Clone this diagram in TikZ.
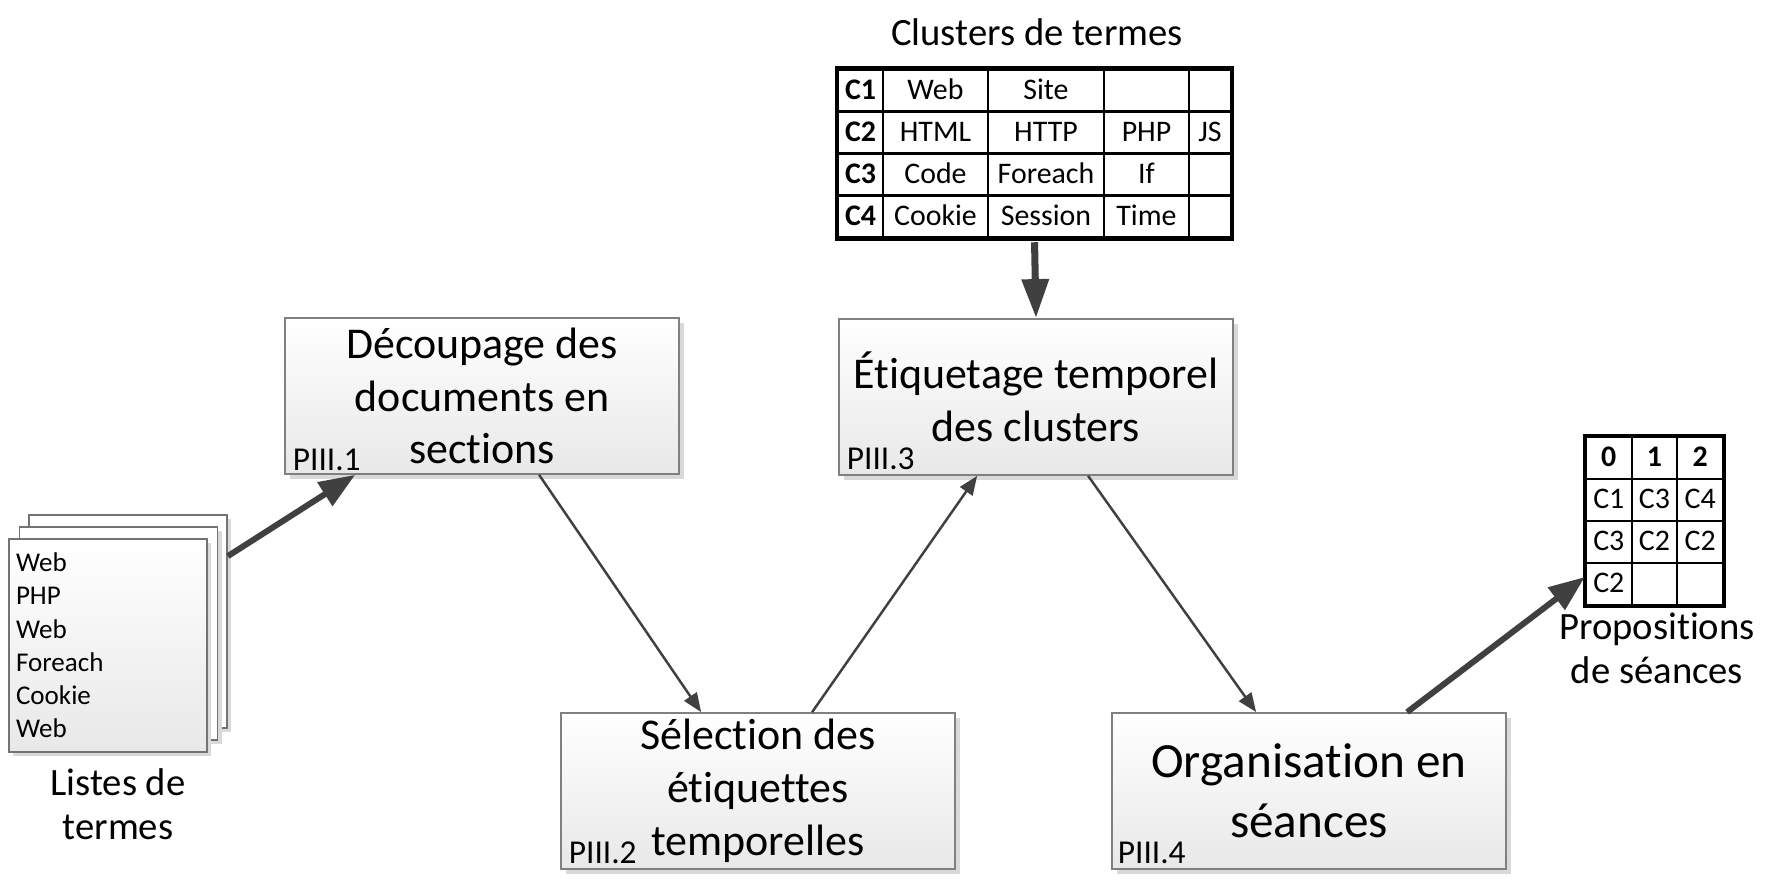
\documentclass[tikz,border=0pt]{standalone}
\usepackage{fontspec}
\setmainfont{Carlito}[Ligatures={NoCommon,NoRare}]
\usetikzlibrary{arrows.meta,shadows,matrix}

\tikzset{
  process/.style={draw=black!50, line width=0.5pt, top color=white, bottom color=black!9,
    minimum width=3.94cm, minimum height=1.56cm, inner sep=0pt, align=center,
    font=\fontsize{12.5}{15}\selectfont,
    drop shadow={shadow xshift=0.05cm, shadow yshift=-0.05cm, fill=black!15, opacity=1}},
  tag/.style={anchor=base west, inner sep=0pt, font=\fontsize{9.5}{11}\selectfont},
  sheet/.style={draw=black!55, line width=0.5pt, fill=white,
    minimum width=1.98cm, minimum height=2.13cm, inner sep=0pt,
    drop shadow={shadow xshift=0.04cm, shadow yshift=-0.04cm, fill=black!15, opacity=1}},
  caption/.style={align=center, inner sep=0pt, font=\fontsize{11}{12.5}\selectfont},
  flow/.style={-{Triangle[length=0.19cm, width=0.15cm]}, line width=0.7pt, draw=black!75},
  bigflow/.style={-{Triangle[length=0.36cm, width=0.27cm]}, line width=1.7pt, draw=black!75},
  downflow/.style={-{Triangle[length=0.39cm, width=0.26cm]}, line width=2pt, draw=black!75},
  grid/.style={matrix of nodes, nodes in empty cells, inner sep=0pt,
    column sep=-0.6pt, row sep=-0.6pt,
    nodes={draw, line width=0.6pt, inner sep=0pt, minimum height=0.42cm,
      text height=6.5pt, text depth=1.5pt, font=\fontsize{8.5}{10}\selectfont}}
}

\begin{document}
\begin{tikzpicture}
  \useasboundingbox (0,0) rectangle (17.83,8.92);

  % Draw the stack of term lists
  \node[sheet] (sheet3) at (1.28,2.705) {};
  \node[sheet] (sheet2) at (1.185,2.585) {};
  \node[sheet, top color=white, bottom color=black!9, align=left, text width=1.84cm,
    inner xsep=0.07cm, font=\fontsize{7.7}{9.45}\selectfont] (sheet1) at (1.08,2.465)
    {Web\\PHP\\Web\\Foreach\\Cookie\\Web};
  \node[caption] (listes) at (1.18,0.88) {Listes de\\termes};

  % Draw the four processing steps
  \node[process] (decoupage) at (4.82,4.96) {Découpage des\\documents en\\sections};
  \node[process] (selection) at (7.58,1.01) {Sélection des\\étiquettes\\temporelles};
  \node[process] (etiquetage) at (10.36,4.95) {Étiquetage temporel\\des clusters};
  \node[process, font=\fontsize{14}{17}\selectfont] (organisation) at (13.09,1.01) {Organisation en\\séances};

  \node[tag] (tag1) at ([xshift=0.08cm, yshift=0.04cm]decoupage.south west) {PIII.1};
  \node[tag] (tag2) at ([xshift=0.08cm, yshift=0.06cm]selection.south west) {PIII.2};
  \node[tag] (tag3) at ([xshift=0.08cm, yshift=0.06cm]etiquetage.south west) {PIII.3};
  \node[tag] (tag4) at ([xshift=0.06cm, yshift=0.06cm]organisation.south west) {PIII.4};

  % Draw the table of term clusters
  \node[caption, anchor=base] (clustitle) at (10.37,8.46) {Clusters de termes};
  \matrix[grid,
    column 1/.style={nodes={minimum width=0.45cm}},
    column 2/.style={nodes={minimum width=1.05cm}},
    column 3/.style={nodes={minimum width=1.16cm}},
    column 4/.style={nodes={minimum width=0.85cm}},
    column 5/.style={nodes={minimum width=0.42cm}}] (clusters) at (10.345,7.385) {
    \textbf{C1} & Web & Site & & \\
    \textbf{C2} & HTML & HTTP & PHP & JS \\
    \textbf{C3} & Code & Foreach & If & \\
    \textbf{C4} & Cookie & Session & Time & \\
  };
  \draw[line width=1.3pt] (clusters-1-1.north west) rectangle (clusters-4-5.south east);

  % Draw the table of session proposals
  \matrix[grid, nodes={minimum width=0.457cm}] (props) at (16.545,3.71) {
    \textbf{0} & \textbf{1} & \textbf{2} \\
    C1 & C3 & C4 \\
    C3 & C2 & C2 \\
    C2 & & \\
  };
  \draw[line width=1.1pt] (props-1-1.north west) rectangle (props-4-3.south east);
  \node[caption] (propositions) at (16.57,2.44) {Propositions\\de séances};

  % Draw the connectors
  \draw[bigflow] ([yshift=-0.42cm]sheet3.north east) -- ([xshift=0.71cm]decoupage.south west);
  \draw[flow] ([xshift=2.55cm]decoupage.south west) -- ([xshift=1.41cm]selection.north west);
  \draw[flow] ([xshift=2.52cm]selection.north west) -- ([xshift=1.39cm]etiquetage.south west);
  \draw[flow] ([xshift=2.50cm]etiquetage.south west) -- ([xshift=1.45cm]organisation.north west);
  \draw[bigflow] ([xshift=2.96cm]organisation.north west) -- ([yshift=0.07cm]props-4-1.west);
  \draw[downflow, shorten <=0.03cm] (clusters.south) -- (etiquetage.north);
\end{tikzpicture}
\end{document}
